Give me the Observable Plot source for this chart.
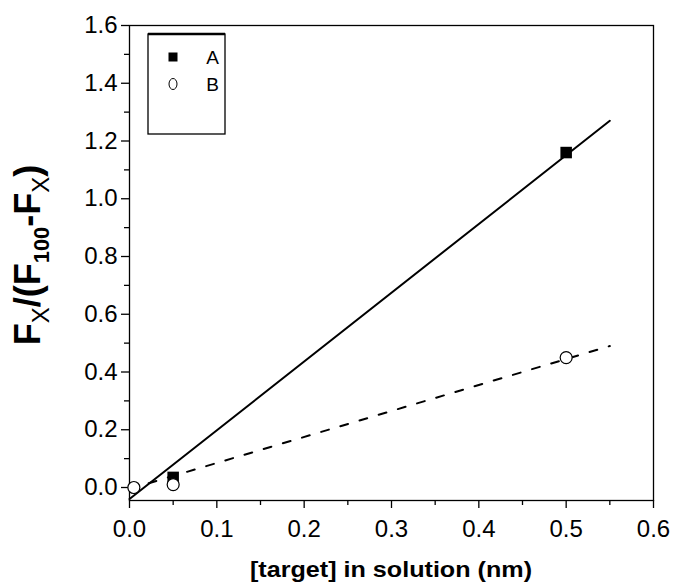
<!DOCTYPE html>
<html><head><meta charset="utf-8">
<script src="https://cdn.jsdelivr.net/npm/d3@7"></script>
<script src="https://cdn.jsdelivr.net/npm/@observablehq/plot@0.6"></script>
<style>
body{margin:0;background:#fff;}
#chart svg{font-family:"Liberation Sans",Arial,sans-serif;}
</style>
</head><body><div id="chart"></div>
<script>
// Series A (filled squares)
const concA = [0.05, 0.5];
const valA = [0.035, 1.16];
// Series B (open circles)
const concB = [0.005, 0.05, 0.5];
const valB = [0.0, 0.01, 0.45];
// Linear fits (endpoints)
const fitAx = [0, 0.55];
const fitAy = [-0.04, 1.27];
const fitBx = [0, 0.55];
const fitBy = [-0.005, 0.49];
// Axis ticks
const xTicks = [0, 0.1, 0.2, 0.3, 0.4, 0.5, 0.6];
const xMinor = [0.05, 0.15, 0.25, 0.35, 0.45, 0.55];
const yTicks = [0, 0.2, 0.4, 0.6, 0.8, 1.0, 1.2, 1.4, 1.6];
const yMinor = [0.1, 0.3, 0.5, 0.7, 0.9, 1.1, 1.3, 1.5];
const legendLabels = ["A", "B"];

const A = concA.map((x, i) => ({x, y: valA[i]}));
const B = concB.map((x, i) => ({x, y: valB[i]}));
const FA = fitAx.map((x, i) => ({x, y: fitAy[i]}));
const FB = fitBx.map((x, i) => ({x, y: fitBy[i]}));

const plot = Plot.plot({
  width: 673, height: 584,
  marginLeft: 129, marginRight: 20, marginTop: 25, marginBottom: 84,
  style: {fontFamily: "Liberation Sans, Arial, sans-serif", fontSize: "24px", color: "#000", background: "#fff"},
  x: {domain: [0, 0.6], label: null},
  y: {domain: [-0.045, 1.6], label: null},
  marks: [
    Plot.frame({stroke: "#000", strokeWidth: 1.3}),
    Plot.axisX({ticks: xTicks, tickSize: 8, tickPadding: 11, fontSize: 24, tickFormat: d3.format(".1f"), label: null, strokeWidth: 1.3}),
    Plot.axisX({ticks: xMinor, tickSize: 5, text: null, label: null, strokeWidth: 1.3}),
    Plot.axisY({ticks: yTicks, tickSize: 8, tickPadding: 4, fontSize: 24, tickFormat: d3.format(".1f"), label: null, strokeWidth: 1.3}),
    Plot.axisY({ticks: yMinor, tickSize: 5, text: null, label: null, strokeWidth: 1.3}),
    Plot.line(FA, {x: "x", y: "y", stroke: "#000", strokeWidth: 2}),
    Plot.line(FB, {x: "x", y: "y", stroke: "#000", strokeWidth: 2, strokeDasharray: "8,12"}),
    Plot.dot(A, {x: "x", y: "y", symbol: "square", r: 6.5, fill: "#000", stroke: "none"}),
    Plot.dot(B, {x: "x", y: "y", symbol: "circle", r: 6, fill: "#fff", stroke: "#000", strokeWidth: 1.2})
  ]
});
document.getElementById("chart").appendChild(plot);

const svg = d3.select(plot);

// x axis title
svg.append("text")
  .attr("x", 391).attr("y", 577)
  .attr("text-anchor", "middle")
  .attr("font-weight", "bold").attr("font-size", 22)
  .attr("textLength", 282).attr("lengthAdjust", "spacingAndGlyphs")
  .text("[target] in solution (nm)");
// y axis title with subscripts
const yt = svg.append("text")
  .attr("transform", "translate(40,255) rotate(-90)")
  .attr("text-anchor", "middle")
  .attr("font-weight", "bold").attr("font-size", 36);
yt.append("tspan").text("F");
yt.append("tspan").attr("font-size", 24).attr("dy", 9).attr("font-weight", "normal").text("X");
yt.append("tspan").attr("dy", -9).text("/(F");
yt.append("tspan").attr("font-size", 22).attr("dy", 9).text("100");
yt.append("tspan").attr("dy", -9).text("-F");
yt.append("tspan").attr("font-size", 24).attr("dy", 9).attr("font-weight", "normal").text("X");
yt.append("tspan").attr("dy", -9).text(")");

// legend box
const lg = svg.append("g");
lg.append("rect").attr("x", 148).attr("y", 34).attr("width", 77).attr("height", 100)
  .attr("fill", "#fff").attr("stroke", "#000").attr("stroke-width", 1.3);
lg.append("line").attr("x1", 148).attr("x2", 225).attr("y1", 34).attr("y2", 34)
  .attr("stroke", "#000").attr("stroke-width", 2.5);
lg.append("rect").attr("x", 168.5).attr("y", 52.5).attr("width", 9).attr("height", 9).attr("fill", "#000");
lg.append("ellipse").attr("cx", 173).attr("cy", 84).attr("rx", 4).attr("ry", 5.5)
  .attr("fill", "#fff").attr("stroke", "#000").attr("stroke-width", 1);
lg.selectAll("text.lab").data(legendLabels).join("text")
  .attr("x", 212.5).attr("y", (d, i) => 57 + i * 27)
  .attr("dy", "0.36em").attr("text-anchor", "middle").attr("font-size", 19)
  .text(d => d);
</script>
</body></html>
